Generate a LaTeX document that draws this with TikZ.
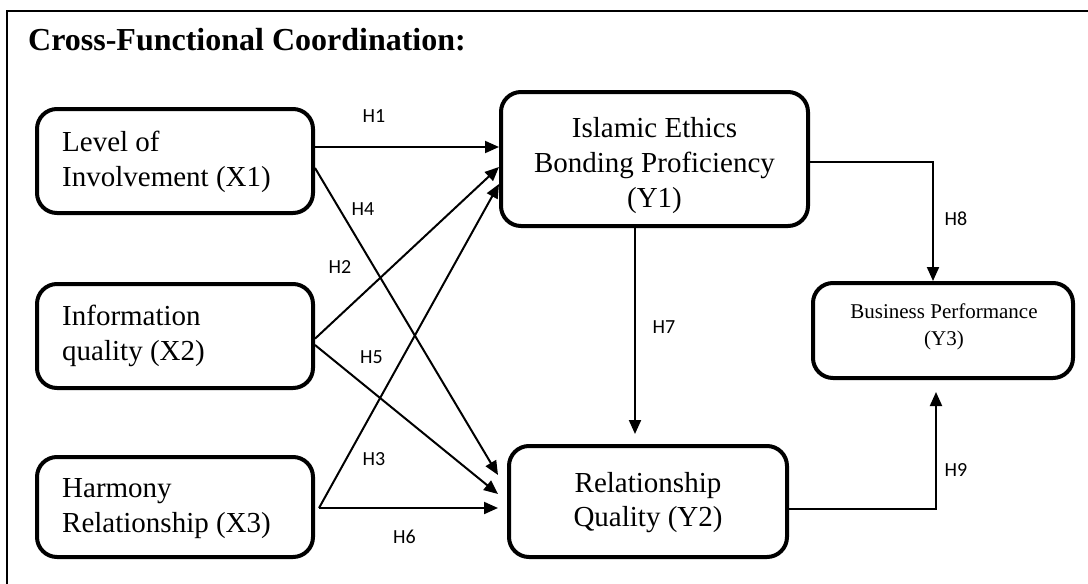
\documentclass[tikz,border=0pt]{standalone}
\usepackage{fontspec}
\setmainfont{Liberation Serif}
\newfontfamily\hfont{Carlito}
\usetikzlibrary{arrows.meta,calc}
\begin{document}
\begin{tikzpicture}[x=1pt,y=-1pt,
  box/.style={draw, line width=4pt, rounded corners=20pt, inner sep=0pt, outer sep=2pt},
  txt/.style={inner sep=0pt, font=\fontsize{29}{35}\selectfont},
  arr/.style={line width=2pt, -{Triangle[length=14pt,width=12pt]}},
  hl/.style={inner sep=0pt, font=\hfont\fontsize{20}{24}\selectfont}]
\useasboundingbox (0,0) rectangle (1088,584);
\fill[white] (0,0) rectangle (1088,584);
% frame (cropped)
\draw[line width=2pt] (7,584) -- (7,10.5) -- (1088,10.5);
\node[anchor=west, inner sep=0pt, font=\bfseries\fontsize{32}{38}\selectfont] (title) at (28,40) {Cross-Functional Coordination:};
% boxes
\node[box, minimum width=276pt, minimum height=104pt] (X1) at (175,161) {};
\node[box, minimum width=276pt, minimum height=104pt] (X2) at (175,336) {};
\node[box, minimum width=276pt, minimum height=100pt] (X3) at (175,507) {};
\node[box, minimum width=307pt, minimum height=134pt] (Y1) at (654.5,159) {};
\node[box, minimum width=278pt, minimum height=111pt] (Y2) at (648,501.5) {};
\node[box, minimum width=260pt, minimum height=95pt] (Y3) at (943,330.5) {};
% texts
\node[txt, anchor=west, align=left] (tX1) at (62,161.5) {Level of\\Involvement (X1)};
\node[txt, anchor=west, align=left] (tX2) at (62,336) {Information\\quality (X2)};
\node[txt, anchor=west, align=left] (tX3) at (62,509) {Harmony\\Relationship (X3)};
\node[txt, align=center, font=\fontsize{29}{35}\selectfont] (tY1) at (654.5,165.5) {Islamic Ethics\\Bonding Proficiency\\(Y1)};
\node[txt, align=center, font=\fontsize{29}{33.5}\selectfont] (tY2) at (648,502.5) {Relationship\\Quality (Y2)};
\node[txt, align=center, font=\fontsize{21}{27}\selectfont] (tY3) at (944,327) {Business Performance\\(Y3)};
% connectors
\coordinate (s3) at ([xshift=4pt,yshift=-1pt]X3.east);
\draw[arr] ([yshift=14pt]X1.east) -- ([yshift=12pt]Y1.west);
\draw[arr] ([yshift=-7pt]X1.east) -- ([xshift=-9pt,yshift=26.5pt]Y2.west);
\draw[arr] ([yshift=-2.7pt]X2.east) -- ([yshift=-8pt]Y1.west);
\draw[arr] ([yshift=-9pt]X2.east) -- ([xshift=-9pt,yshift=7.5pt]Y2.west);
\draw[arr] (s3) -- ([yshift=-25pt]Y1.west);
\draw[arr] (s3) -- ([xshift=-9pt,yshift=-6.5pt]Y2.west);
\draw[arr] ([xshift=-19.5pt]Y1.south) -- ([xshift=-13pt,yshift=10pt]Y2.north);
\draw[arr] ([yshift=-3pt]Y1.east) -| ([xshift=-10pt]Y3.north);
\draw[arr] ([yshift=-7.5pt]Y2.east) -| ([xshift=-7pt,yshift=-12pt]Y3.south);
% labels
\node[hl] (h1) at (374,116) {H1};
\node[hl] (h2) at (340,267) {H2};
\node[hl] (h3) at (374,459) {H3};
\node[hl] (h4) at (363,209) {H4};
\node[hl] (h5) at (371.5,357) {H5};
\node[hl] (h6) at (404.5,537) {H6};
\node[hl] (h7) at (664,327) {H7};
\node[hl] (h8) at (956,219) {H8};
\node[hl] (h9) at (956,470) {H9};
\end{tikzpicture}
\end{document}
